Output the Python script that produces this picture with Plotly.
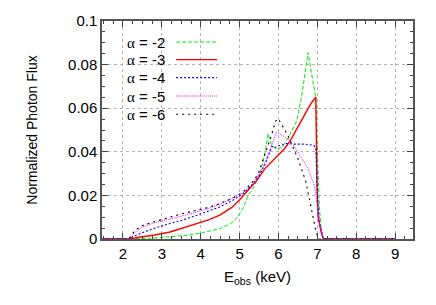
import plotly.graph_objects as go

# ---- data ----
alpha_labels = ["-2", "-3", "-4", "-5", "-6"]

energy_a2 = [1.4, 2.15, 2.5, 2.8, 3.2, 3.65, 4.0, 4.5, 4.75, 4.92, 5.1, 5.22, 5.35, 5.48, 5.6,
             5.67, 5.73, 5.8, 5.9, 5.99, 6.1, 6.24, 6.35, 6.47, 6.6, 6.7, 6.76, 6.85, 6.95,
             7.0, 7.05, 7.1, 7.15, 9.0]
flux_a2 = [0, 0, 0.0002, 0.0005, 0.001, 0.0017, 0.0027, 0.0048, 0.0068, 0.0094, 0.0145, 0.02,
           0.0235, 0.0277, 0.0353, 0.041, 0.0483, 0.044, 0.0418, 0.0412, 0.0425, 0.046, 0.05,
           0.054, 0.066, 0.079, 0.0855, 0.076, 0.066, 0.04, 0.015, 0.004, 0, 0]

energy_a3 = [1.4, 2.15, 2.4, 2.78, 3.21, 3.5, 3.9, 4.2, 4.49, 4.8, 5.0, 5.22, 5.45, 5.65, 5.8,
             5.9, 6.0, 6.16, 6.3, 6.42, 6.6, 6.76, 6.85, 6.96, 6.99, 7.02, 7.08, 7.15, 9.0]
flux_a3 = [0, 0, 0.0008, 0.0017, 0.0032, 0.0048, 0.0071, 0.0088, 0.011, 0.0145, 0.018, 0.0222,
           0.027, 0.0323, 0.035, 0.0369, 0.0385, 0.0415, 0.045, 0.049, 0.055, 0.0598, 0.0625,
           0.0651, 0.025, 0.01, 0.0045, 0, 0]

energy_a4 = [1.4, 2.15, 2.3, 2.5, 2.78, 3.21, 3.5, 3.9, 4.2, 4.49, 4.8, 5.09, 5.3, 5.5, 5.65,
             5.78, 5.83, 5.9, 6.0, 6.08, 6.2, 6.42, 6.7, 6.9, 6.96, 7.0, 7.05, 7.15, 9.0]
flux_a4 = [0, 0, 0.0015, 0.003, 0.0048, 0.0071, 0.0085, 0.0109, 0.0127, 0.0147, 0.0175, 0.0208,
           0.0245, 0.029, 0.034, 0.04, 0.0425, 0.0418, 0.0428, 0.043, 0.0438, 0.0435, 0.0435,
           0.043, 0.042, 0.02, 0.008, 0, 0]

energy_a5 = [1.4, 2.15, 2.3, 2.5, 2.78, 3.21, 3.5, 3.9, 4.2, 4.49, 4.8, 5.09, 5.35, 5.6, 5.75,
             5.86, 5.95, 6.05, 6.24, 6.37, 6.5, 6.63, 6.76, 6.85, 6.93, 6.98, 7.02, 7.1, 7.15, 9.0]
flux_a5 = [0, 0, 0.003, 0.0055, 0.0073, 0.0094, 0.0105, 0.0124, 0.014, 0.016, 0.0185, 0.0212,
           0.0254, 0.033, 0.0395, 0.0453, 0.049, 0.048, 0.046, 0.0435, 0.04, 0.0361, 0.0323,
           0.028, 0.024, 0.018, 0.011, 0.003, 0, 0]

energy_a6 = [1.4, 2.15, 2.31, 2.5, 2.78, 3.21, 3.5, 3.9, 4.2, 4.49, 4.8, 5.09, 5.2, 5.35, 5.48,
             5.6, 5.7, 5.82, 5.92, 5.99, 6.1, 6.24, 6.5, 6.6, 6.7, 6.8, 6.9, 6.97, 7.03, 9.0]
flux_a6 = [0, 0, 0.004, 0.0062, 0.0078, 0.0101, 0.0115, 0.0132, 0.0145, 0.0162, 0.0185, 0.0216,
           0.0235, 0.0265, 0.03, 0.036, 0.0415, 0.0476, 0.054, 0.0552, 0.052, 0.0476, 0.0369,
           0.032, 0.0265, 0.018, 0.009, 0.003, 0, 0]

x_ticks = [2, 3, 4, 5, 6, 7, 8, 9]
y_ticks = [0, 0.02, 0.04, 0.06, 0.08, 0.1]
y_tick_labels = ["0", "0.02", "0.04", "0.06", "0.08", "0.1"]

series = [
    (energy_a2, flux_a2, "#00ee00", "4px,2px", 1.0),
    (energy_a3, flux_a3, "#ff0000", "solid", 1.4),
    (energy_a4, flux_a4, "#0000ff", "2px,2px", 1.1),
    (energy_a5, flux_a5, "#ff00ff", "1px,1px", 1.0),
    (energy_a6, flux_a6, "#000000", "2px,4px", 1.1),
]

FONT = "Liberation Sans, Arial, sans-serif"
fig = go.Figure()
for (ex, fy, col, dash, w), lab in zip(series, alpha_labels):
    fig.add_trace(go.Scatter(x=ex, y=fy, mode="lines", name="α = " + lab,
                             line=dict(color=col, dash=dash, width=w),
                             showlegend=False, hoverinfo="skip"))

# gnuplot-style key: text then line sample
x0_text = (167.0 - 101.7) / 311.6
xs0 = (176.0 - 101.7) / 311.6
xs1 = (217.0 - 101.7) / 311.6
rows_px = [41.7, 59.3, 77.3, 95.7, 114.0]
for (ex, fy, col, dash, w), lab, ypx in zip(series, alpha_labels, rows_px):
    yp = (238.7 - ypx) / 218.0
    fig.add_annotation(xref="paper", yref="paper", x=x0_text, y=yp, xanchor="right",
                       yanchor="middle", showarrow=False,
                       text="<span style='font-family:Liberation Serif'>α</span> = " + lab,
                       font=dict(family=FONT, size=15, color="#000"))
    fig.add_shape(type="line", xref="paper", yref="paper", x0=xs0, x1=xs1, y0=yp, y1=yp,
                  line=dict(color=col, dash=dash, width=w))

fig.update_layout(
    width=436, height=305,
    margin=dict(l=102, r=23, t=21, b=66),
    paper_bgcolor="white", plot_bgcolor="white",
    font=dict(family=FONT, size=15, color="#000"),
    xaxis=dict(range=[1.46, 9.46], tickmode="array", tickvals=x_ticks,
               ticks="inside", ticklen=6, tickcolor="#444", automargin=False,
               showline=True, linecolor="#555", linewidth=1.5, mirror="allticks",
               showgrid=True, gridcolor="#b4b4b4", griddash="dot", gridwidth=1,
               zeroline=False,
               minor=dict(dtick=0.25, tick0=0, ticks="inside", ticklen=3, tickcolor="#444",
                          showgrid=False),
               title=dict(text="E<sub>obs</sub> (keV)", font=dict(size=15), standoff=11)),
    yaxis=dict(range=[0, 0.1], tickmode="array", tickvals=y_ticks, ticktext=y_tick_labels,
               ticks="inside", ticklen=6, tickcolor="#444", automargin=False,
               showline=True, linecolor="#555", linewidth=1.5, mirror="allticks",
               showgrid=True, gridcolor="#b4b4b4", griddash="dot", gridwidth=1,
               zeroline=False,
               minor=dict(dtick=0.005, tick0=0, ticks="inside", ticklen=3, tickcolor="#444",
                          showgrid=False),
               title=dict(text="Normalized Photon Flux", font=dict(size=14), standoff=27)),
)

fig.write_html("out.html", config={"displayModeBar": False},
               post_script="document.body.style.margin='0';document.body.style.padding='0';")
